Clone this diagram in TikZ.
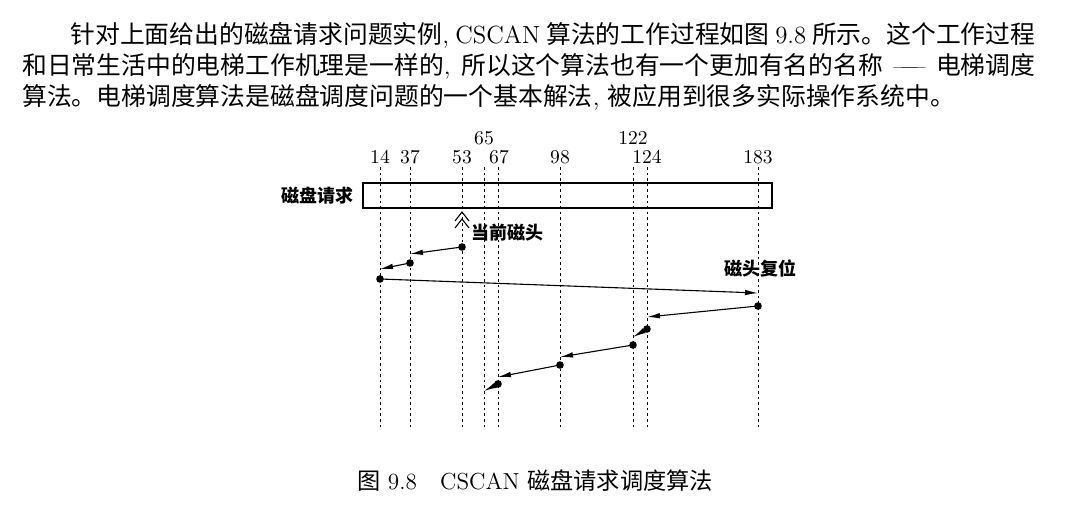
\documentclass[tikz,border=0pt]{standalone}
\usepackage{fontspec}
\newfontfamily\cjk{Noto Sans CJK SC}
\usetikzlibrary{arrows.meta, positioning}

\begin{document}
\begin{tikzpicture}[
    x=0.5pt, y=-0.5pt,
    para/.style={anchor=west, inner sep=0pt, font=\fontsize{12.4}{15}\selectfont},
    num/.style={inner sep=0pt, font=\fontsize{9.8}{11}\selectfont},
    lbl/.style={inner sep=0pt, font=\fontsize{9}{11}\selectfont\cjk\bfseries},
    track/.style={line width=0.5pt, dash pattern=on 1.3pt off 1.5pt},
    reqbox/.style={draw, line width=1pt, minimum width=204.5pt, minimum height=12.5pt, inner sep=0pt},
    headdot/.style={circle, fill, inner sep=0pt, minimum size=3.8pt},
    seek/.style={-{Latex[length=6.5pt, width=2.8pt]}, line width=0.55pt},
    headmark/.style={line width=0.55pt}
]
\useasboundingbox (0,0) rectangle (1082,519);

% paragraph
\node[para] (line1) at (70,35) {\makebox[482.5pt][s]{{\cjk 针对上面给出的磁盘请求问题实例}, CSCAN {\cjk 算法的工作过程如图} 9.8 {\cjk 所示。这个工作过程}}};
\node[para] (line2) at (22,66) {\makebox[506.5pt][s]{{\cjk 和日常生活中的电梯工作机理是一样的}, {\cjk 所以这个算法也有一个更加有名的名称} —\kern-0.65em— {\cjk 电梯调度}}};
\node[para] (line3) at (22,97) {{\cjk 算法。电梯调度算法是磁盘调度问题的一个基本解法}, {\cjk 被应用到很多实际操作系统中。}};

% track numbers
\node[num] (n14) at (380,157) {14};
\node[num] (n37) at (410,157) {37};
\node[num] (n53) at (462,157) {53};
\node[num] (n65) at (484,138) {65};
\node[num] (n67) at (499,157) {67};
\node[num] (n98) at (560,157) {98};
\node[num] (n122) at (633,138) {122};
\node[num] (n124) at (647,157) {124};
\node[num] (n183) at (758,157) {183};

% tracks
\draw[track] (380,167) -- (380,430);
\draw[track] (410,167) -- (410,430);
\draw[track] (462,167) -- (462,428);
\draw[track] (484,167) -- (484,430);
\draw[track] (498,167) -- (498,430);
\draw[track] (560,167) -- (560,430);
\draw[track] (633,167) -- (633,430);
\draw[track] (647,167) -- (647,430);
\draw[track] (758,167) -- (758,430);

% request bar
\node[reqbox] (disk) at (567.5,195.5) {};
\node[lbl, left=4pt of disk] (disklbl) {磁盘请求};

% current head
\coordinate (cur) at (462,212);
\draw[headmark] (cur) ++(-7,9) -- ++(7,-9) -- ++(7,9);
\draw[headmark] (cur) ++(-7,16) -- ++(7,-9) -- ++(7,9);
\node[lbl, anchor=west] (curlbl) at (471,233) {当前磁头};
\node[lbl] (resetlbl) at (760,268) {磁头复位};

% head positions
\node[headdot] (p53) at (462,247) {};
\node[headdot] (p37) at (410,263) {};
\node[headdot] (p14) at (380,279) {};
\node[headdot] (p183) at (758,306) {};
\node[headdot] (p124) at (647,329) {};
\node[headdot] (p122) at (633,345) {};
\node[headdot] (p98) at (560,365) {};
\node[headdot] (p67) at (498,384) {};

\coordinate (e37) at (410,254);
\coordinate (e14) at (380,269);
\coordinate (e183) at (758,293);
\coordinate (e124) at (647,317);
\coordinate (e122) at (633,337);
\coordinate (e98) at (560,357);
\coordinate (e67) at (498,377);
\coordinate (e65) at (484,391);

\draw[seek] (p53.center) -- (e37);
\draw[seek] (p37.center) -- (e14);
\draw[seek] (p14.center) -- (e183);
\draw[seek] (p183.center) -- (e124);
\draw[seek] (p124.center) -- (e122);
\draw[seek] (p122.center) -- (e98);
\draw[seek] (p98.center) -- (e67);
\draw[seek] (p67.center) -- (e65);

% caption
\node[font=\fontsize{11.6}{13}\selectfont] (caption) at (535,481) {{\cjk 图} 9.8\quad CSCAN {\cjk 磁盘请求调度算法}};

\end{tikzpicture}
\end{document}
